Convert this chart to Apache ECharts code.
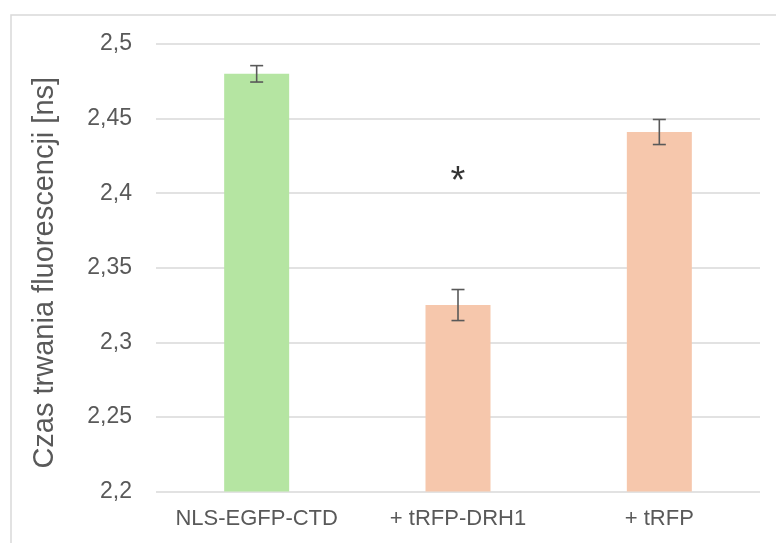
<!DOCTYPE html>
<html>
<head>
<meta charset="utf-8">
<script src="https://cdn.jsdelivr.net/npm/echarts@6/dist/echarts.min.js"></script>
<style>html,body{margin:0;padding:0;background:#fff;}#c{width:776px;height:543px;}</style>
</head>
<body>
<div id="c"></div>
<script>
const categories = ['NLS-EGFP-CTD', '+ tRFP-DRH1', '+ tRFP'];
const values = [2.48, 2.325, 2.441];
const errors = [0.0055, 0.0104, 0.0084];
const barColors = ['#B5E5A2', '#F6C7AC', '#F6C7AC'];
const yAxisTitle = 'Czas trwania fluorescencji [ns]';
const significance = [[1, 2.407, '*']];

const FONT = 'Liberation Sans';
const chart = echarts.init(document.getElementById('c'), null, {renderer: 'canvas'});
const fmt = v => String(Math.round(v * 1000) / 1000).replace('.', ',');

chart.setOption({
  animation: false,
  backgroundColor: '#fff',
  graphic: [{
    type: 'rect', shape: {x: 11, y: 15, width: 800, height: 600},
    style: {fill: 'none', stroke: '#D9D9D9', lineWidth: 1.5}, silent: true
  }],
  grid: {left: 156, right: 16, top: 44, bottom: 51.5, containLabel: false},
  xAxis: {
    type: 'category', data: categories,
    axisLine: {show: false}, axisTick: {show: false},
    axisLabel: {color: '#595959', fontSize: 22, fontFamily: FONT, margin: 16, interval: 0}
  },
  yAxis: {
    type: 'value', min: 2.2, max: 2.5, interval: 0.05,
    name: yAxisTitle, nameLocation: 'middle', nameGap: 97, nameRotate: 90,
    nameTextStyle: {color: '#595959', fontSize: 29, fontFamily: FONT, padding: [0, 10, 0, 0]},
    axisLine: {show: false}, axisTick: {show: false},
    axisLabel: {color: '#595959', fontSize: 23, fontFamily: FONT, margin: 24, formatter: fmt},
    splitLine: {lineStyle: {color: '#D9D9D9', width: 1.5}}
  },
  series: [
    {
      type: 'bar', barWidth: 65,
      data: values.map((v, i) => ({value: v, itemStyle: {color: barColors[i]}}))
    },
    {
      type: 'custom',
      data: values.map((v, i) => [i, v - errors[i], v + errors[i]]),
      renderItem: function (params, api) {
        const lo = api.coord([api.value(0), api.value(1)]);
        const hi = api.coord([api.value(0), api.value(2)]);
        const w = 6.5;
        const st = {stroke: '#595959', lineWidth: 1.6};
        return {type: 'group', children: [
          {type: 'line', shape: {x1: lo[0], y1: lo[1], x2: hi[0], y2: hi[1]}, style: st},
          {type: 'line', shape: {x1: lo[0] - w, y1: lo[1], x2: lo[0] + w, y2: lo[1]}, style: st},
          {type: 'line', shape: {x1: hi[0] - w, y1: hi[1], x2: hi[0] + w, y2: hi[1]}, style: st}
        ]};
      },
      z: 5
    },
    {
      type: 'scatter', symbolSize: 0,
      data: significance.map(s => [s[0], s[1]]),
      label: {
        show: true, position: 'inside', formatter: (p) => significance[p.dataIndex][2],
        color: '#000', fontSize: 38, fontFamily: FONT
      },
      z: 6
    }
  ]
});
</script>
</body>
</html>
